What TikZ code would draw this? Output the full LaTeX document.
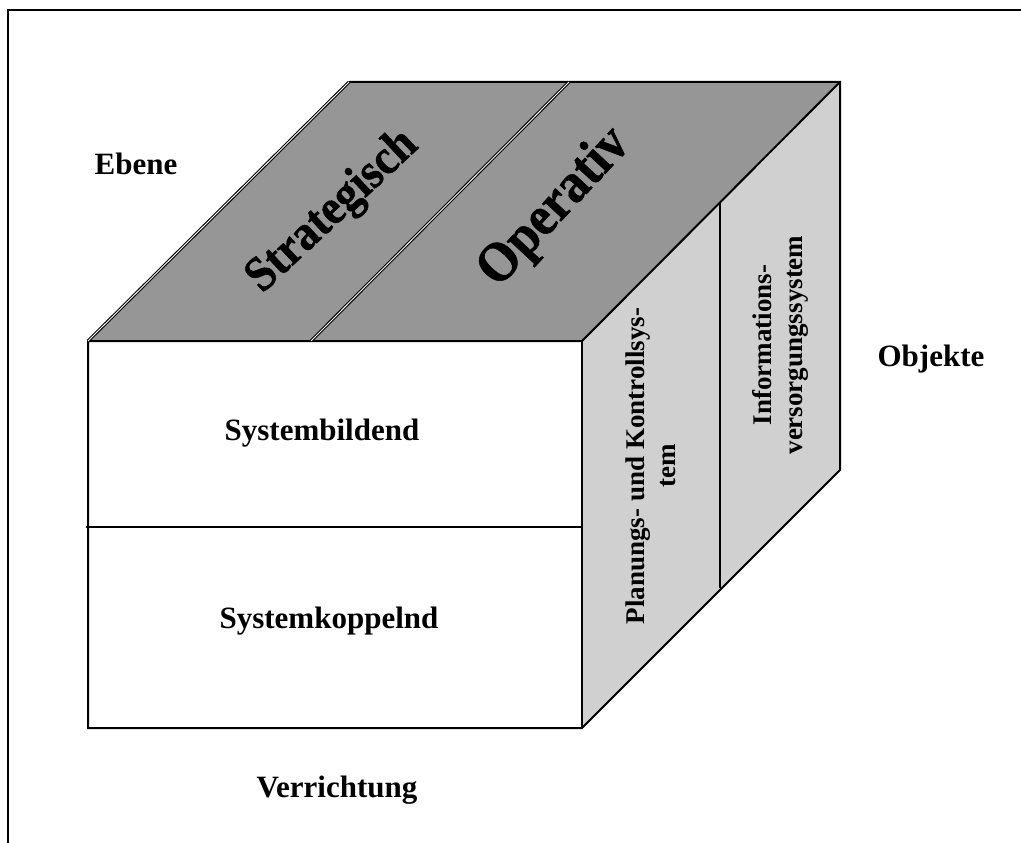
\documentclass[tikz,border=0pt]{standalone}
\usepackage{fontspec}
\setmainfont{Liberation Serif}
\newfontfamily\heavyfont[FakeBold=1]{Liberation Serif Bold}
\definecolor{topgray}{RGB}{150,150,150}
\definecolor{sidegray}{RGB}{208,208,208}
\begin{document}
\begin{tikzpicture}[x=1pt,y=-1pt,
  edge/.style={line width=2pt, line join=miter},
  dbl/.style={line width=1.1pt, double=white, double distance=0.9pt},
  axislbl/.style={font=\bfseries\fontsize{31}{36}\selectfont, anchor=base, inner sep=0pt},
  sidelbl/.style={font=\bfseries\fontsize{27}{31}\selectfont, align=center, rotate=90, inner sep=0pt},
  bigtxt/.style={inner sep=0pt}
]
\useasboundingbox (0,0) rectangle (1021,843);

% page frame (top and left only)
\draw[line width=2.2pt] (8,843) -- (8,10) -- (1021,10);

% cube corners
\coordinate (FTL) at (88,341);
\coordinate (FTR) at (582,341);
\coordinate (FBL) at (88,728);
\coordinate (FBR) at (582,728);
\coordinate (BTL) at (349,82);
\coordinate (BTR) at (840,82);
\coordinate (BBR) at (840,470);
\coordinate (TD1) at (311,341);
\coordinate (TD2) at (569,82);
\coordinate (SD1) at (720,203);
\coordinate (SD2) at (720,588);
\coordinate (FD1) at (86,527);
\coordinate (FD2) at (582,527);

% faces
\fill[topgray] (FTL) -- (BTL) -- (BTR) -- (FTR) -- cycle;
\fill[sidegray] (FTR) -- (BTR) -- (BBR) -- (FBR) -- cycle;
\fill[white] (FTL) -- (FTR) -- (FBR) -- (FBL) -- cycle;

% edges
\draw[edge] (BTL) -- (BTR) -- (BBR) -- (FBR) -- (FBL) -- (FTL) -- (FTR) -- (BTR);
\draw[edge] (FTR) -- (FBR);
\draw[dbl] (FTL) -- (BTL);
\draw[dbl] (TD1) -- (TD2);
\draw[line width=1.6pt] (SD1) -- (SD2);
\draw[line width=1.6pt] (FD1) -- (FD2);

% axis labels
\node[axislbl] (ebene) at (136,174) {Ebene};
\node[axislbl] (objekte) at (931,366) {Objekte};
\node[axislbl] (verrichtung) at (337,797) {Verrichtung};

% front face
\node[axislbl] (bildend) at (322,440) {Systembildend};
\node[axislbl] (koppelnd) at (329,628) {Systemkoppelnd};

% top face
\node[bigtxt, rotate=43, yscale=1.1, font=\heavyfont\fontsize{45}{45}\selectfont] (strat) at (333,212) {Strategisch};
\node[bigtxt, rotate=47, yscale=1.1, font=\heavyfont\fontsize{51}{51}\selectfont] (oper) at (555,208) {Operativ};

% side face
\node[sidelbl] (plan) at (651,466) {Planungs- und Kontrollsys-\\tem};
\node[sidelbl] (info) at (780,345) {Informations-\\versorgungssystem};
\end{tikzpicture}
\end{document}
